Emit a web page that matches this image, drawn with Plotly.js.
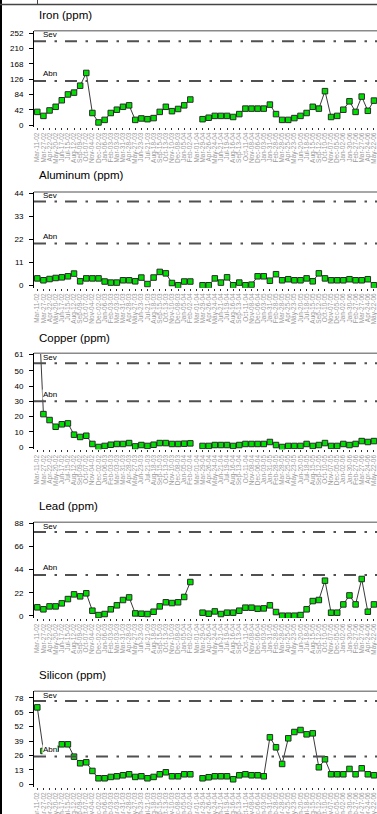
<!DOCTYPE html>
<html>
<head>
<meta charset="utf-8">
<script src="https://cdn.plot.ly/plotly-3.0.1.min.js"></script>
<style>
  html, body { margin: 0; padding: 0; background: #fff; }
  #chart { width: 377px; height: 814px; }
</style>
</head>
<body>
<div id="chart"></div>
<script>
// ---------- DATA ----------
const dates = [
  "Mar-11-02","Mar-27-02","Apr-22-02","May-20-02","Jun-17-02","Jul-15-02","Aug-12-02","Sep-09-02",
  "Oct-07-02","Nov-04-02","Dec-02-02","Jan-06-03","Feb-03-03","Mar-03-03","Mar-31-03","Apr-28-03",
  "May-27-03","Jun-23-03","Jul-21-03","Aug-18-03","Sep-15-03","Oct-13-03","Nov-10-03","Dec-08-03",
  "Jan-05-04","Feb-02-04","Mar-01-04","Mar-29-04","Apr-26-04","May-24-04","Jun-21-04","Jul-19-04",
  "Aug-16-04","Sep-13-04","Oct-11-04","Nov-08-04","Dec-06-04","Jan-03-05","Jan-31-05","Feb-28-05",
  "Mar-28-05","Apr-25-05","May-23-05","Jun-20-05","Jul-18-05","Aug-15-05","Sep-12-05","Oct-10-05",
  "Nov-07-05","Dec-05-05","Jan-02-06","Jan-30-06","Feb-27-06","Mar-27-06","Apr-24-06","May-22-06"
];

const panelTitles = ["Iron (ppm)", "Aluminum (ppm)", "Copper (ppm)", "Lead (ppm)", "Silicon (ppm)"];

const ironValues = [36,25,40,50,68,84,89,108,143,33,7,14,33,42,50,54,14,18,16,19,36,50,38,44,54,70,
  null,
  16,20,25,25,25,22,30,45,45,45,45,56,30,14,14,19,25,33,50,45,93,22,25,42,65,36,78,39,67];

const aluminumValues = [3.3,2.4,3.0,3.5,3.8,4.3,5.6,1.9,3.3,3.3,3.3,1.8,1.3,1.3,2.4,2.4,1.9,3.7,0.6,3.7,6.4,5.7,1.1,0,1.8,1.8,
  null,
  0,0,3.3,1.3,3.8,0,1.3,0,0.3,4.3,4.3,2.2,5.3,2.4,2.9,2.4,2.4,3.3,1.9,5.7,3.3,2.4,2.4,2.4,2.9,2.4,2.4,2.9,0];

const copperValues = [110,21.6,17.7,13.3,14.9,15.5,8.1,6.6,7.4,2.0,0,0.7,1.5,2.0,2.0,2.6,0.4,1.3,0.7,1.5,2.6,2.6,2.0,2.0,2.2,2.4,
  null,
  0.7,0.7,1.3,1.3,1.3,0.7,1.3,2.0,2.0,2.0,2.0,3.3,1.3,0,0.7,0.7,0.7,2.0,0.7,1.3,2.6,0.7,0.7,2.0,1.3,2.0,3.9,3.3,3.9];

const leadValues = [8.0,6.1,8.9,8.9,11.8,15.9,20.4,18.5,21.4,4.8,0.6,1.6,6.1,9.9,15.0,17.5,2.2,1.9,1.6,3.8,8.9,12.8,12.1,12.8,17.9,32.2,
  null,
  2.9,1.9,4.1,1.6,2.9,2.9,4.8,7.7,7.7,6.7,7.0,9.9,3.5,0,0,0,0.6,6.1,14.0,15.0,33.5,2.9,2.9,10.8,19.4,10.8,35.1,3.8,10.8];

const siliconValues = [69.3,30,31,32,36,36,24.9,18.9,19.8,12.0,5.4,5.4,6.6,7.2,8.1,9.0,6.6,7.2,5.4,6.6,9.0,10.8,7.2,7.2,9.0,9.0,
  null,
  5.4,6.3,7.2,7.2,7.2,4.5,8.1,9.0,8.1,8.1,7.2,42.3,33.3,18.3,41.4,47.1,48.9,45.0,45.9,15.3,22.5,9.0,9.0,9.0,13.8,9.0,14.4,9.0,8.1];

const severeLimits   = [230, 40, 55, 80, 75];
const abnormalLimits = [121, 20, 30, 39, 25];

const yTickValues = [
  [0,42,84,126,168,210,252],
  [0,11,22,33,44],
  [0,10,20,30,40,50,61],
  [0,22,44,66,88],
  [0,13,26,39,52,65,78]
];

// ---------- LAYOUT GEOMETRY ----------
const W = 377, H = 814;
const yDomains = [
  [1 - 127/H,   1 - 30.7/H],
  [1 - 287.7/H, 1 - 192/H],
  [1 - 449.3/H, 1 - 353.3/H],
  [1 - 618/H,   1 - 522.3/H],
  [1 - 786.7/H, 1 - 691.3/H]
];
const yRanges = [[-5.5, 259.1], [-1.15, 44.6], [-1.5, 61.5], [-2.2, 89.3], [-2.2, 83.8]];
const titleY = [15, 175.3, 337.7, 506, 674.5];

const seriesList = [ironValues, aluminumValues, copperValues, leadValues, siliconValues];
const FONT = "Liberation Sans, Arial, sans-serif";

const traces = [];
const layout = {
  width: W, height: H,
  margin: {l: 34, r: 0, t: 0, b: 0, pad: 0},
  paper_bgcolor: "#ffffff",
  plot_bgcolor: "#ffffff",
  showlegend: false,
  font: {family: FONT, size: 8, color: "#000"},
  shapes: [],
  annotations: []
};

seriesList.forEach((vals, i) => {
  const n = i + 1;
  const xa = n === 1 ? "x" : "x" + n;
  const ya = n === 1 ? "y" : "y" + n;
  const xKey = n === 1 ? "xaxis" : "xaxis" + n;
  const yKey = n === 1 ? "yaxis" : "yaxis" + n;

  traces.push({
    type: "scatter", mode: "lines+markers",
    x: dates, y: vals, xaxis: xa, yaxis: ya,
    connectgaps: false,
    line: {color: "#3a3a3a", width: 1},
    marker: {symbol: "square", size: 5.5, color: "#00e000", line: {color: "#2a2a2a", width: 1}},
    hoverinfo: "skip"
  });

  layout[xKey] = {
    anchor: ya, domain: [0, 1], type: "category",
    range: [-0.54, 55.5],
    tickmode: "array", tickvals: dates, ticktext: dates,
    tickangle: -90,
    tickfont: {family: FONT, size: 6.5, color: "#9a9a9a"},
    ticks: "outside", ticklen: 2, tickwidth: 1, tickcolor: "#333",
    showline: false, showgrid: false, zeroline: false,
    fixedrange: true
  };
  layout[yKey] = {
    anchor: xa, domain: yDomains[i],
    range: yRanges[i],
    tickmode: "array", tickvals: yTickValues[i],
    tickfont: {family: FONT, size: 8, color: "#000"},
    ticks: "outside", ticklen: 4, tickwidth: 1, tickcolor: "#000",
    ticklabelstandoff: 4,
    showline: true, linecolor: "#000", linewidth: 1,
    showgrid: false, zeroline: false,
    fixedrange: true
  };

  // top frame line
  layout.shapes.push({
    type: "line", xref: xa + " domain", yref: ya + " domain",
    x0: 0, x1: 1, y0: 1, y1: 1,
    line: {color: "#8a8a8a", width: 1.5}
  });
  // severe and abnormal limit lines
  [severeLimits[i], abnormalLimits[i]].forEach(v => {
    layout.shapes.push({
      type: "line", xref: xa + " domain", yref: ya,
      x0: 0, x1: 1, y0: v, y1: v,
      line: {color: "#505050", width: 2, dash: "12px,8.5px,2.5px,8px"}
    });
  });

  // labels
  layout.annotations.push({
    text: panelTitles[i], xref: "paper", yref: "paper",
    x: 3/343, y: 1 - titleY[i]/H, xanchor: "left", yanchor: "middle",
    showarrow: false, font: {family: FONT, size: 11.5, color: "#000"}
  });
  layout.annotations.push({
    text: "Sev", xref: xa + " domain", yref: ya + " domain",
    x: 8/343, y: 1, xanchor: "left", yanchor: "top", yshift: 1.5,
    showarrow: false, borderpad: 0, font: {family: FONT, size: 8, color: "#000"}
  });
  layout.annotations.push({
    text: "Abn", xref: xa + " domain", yref: ya,
    x: 8/343, y: abnormalLimits[i], xanchor: "left", yanchor: "bottom", yshift: 1.5,
    showarrow: false, bgcolor: "#ffffff", borderpad: 0,
    font: {family: FONT, size: 8, color: "#000"}
  });
});

// page frame remnants: left black rule and top rule
layout.shapes.push({
  type: "line", xref: "paper", yref: "paper",
  x0: -33/343, x1: -33/343, y0: 0, y1: 1,
  line: {color: "#000", width: 2}
});
layout.shapes.push({
  type: "line", xref: "paper", yref: "paper",
  x0: -34/343, x1: 1, y0: 1 - 4.6/H, y1: 1 - 4.6/H,
  line: {color: "#444", width: 1.5}
});
layout.shapes.push({
  type: "line", xref: "paper", yref: "paper",
  x0: 3.5/343, x1: 3.5/343, y0: 1, y1: 1 - 4.6/H,
  line: {color: "#444", width: 1}
});

Plotly.newPlot("chart", traces, layout, {displayModeBar: false, staticPlot: true});
</script>
</body>
</html>
